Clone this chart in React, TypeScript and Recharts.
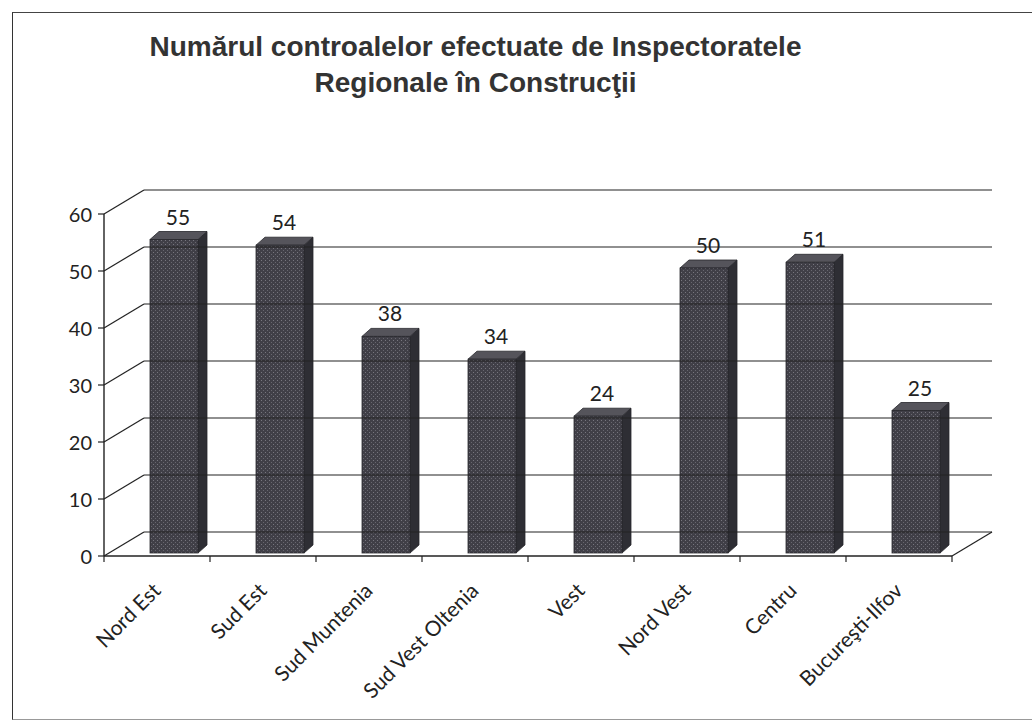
import { BarChart, Bar, XAxis, YAxis, LabelList } from "recharts"

const regions = [
  "Nord Est",
  "Sud Est",
  "Sud Muntenia",
  "Sud Vest Oltenia",
  "Vest",
  "Nord Vest",
  "Centru",
  "Bucureşti-Ilfov",
]
const controale = [55, 54, 38, 34, 24, 50, 51, 25]
const valueTicks = [0, 10, 20, 30, 40, 50, 60]
const titleLines = [
  "Numărul controalelor efectuate de Inspectoratele",
  "Regionale în Construcţii",
]

const data = regions.map((region, i) => ({ region, controale: controale[i] }))

// layout of the pseudo-3D box (front plane -> back wall)
const W = 1032
const H = 722
const PLOT_LEFT = 104
const PLOT_RIGHT = 952
const PLOT_TOP = 214
const PLOT_BOTTOM = 556
const DEPTH_X = 40
const DEPTH_Y = -24
const BAND = (PLOT_RIGHT - PLOT_LEFT) / regions.length
const BAR_SHIFT_X = 17
const BAR_SHIFT_Y = -3
const BAR_DX = 9
const BAR_DY = -8

const INK = "#222"
const FONT = "Lato, 'Open Sans', sans-serif"

function YTick({ y, payload }: any) {
  const v = payload.value
  const bx = PLOT_LEFT + DEPTH_X
  const by = y + DEPTH_Y
  return (
    <g>
      <line x1={PLOT_LEFT - 6} x2={PLOT_LEFT} y1={y} y2={y} stroke={INK} strokeWidth={1.2} />
      <line x1={PLOT_LEFT} y1={y} x2={bx} y2={by} stroke={INK} strokeWidth={1.2} />
      <line x1={bx} y1={by} x2={PLOT_RIGHT + DEPTH_X} y2={by} stroke={INK} strokeWidth={1.2} />
      {v === 0 && (
        <line x1={PLOT_RIGHT} y1={y} x2={PLOT_RIGHT + DEPTH_X} y2={by} stroke={INK} strokeWidth={1.2} />
      )}
      <text
        x={PLOT_LEFT - 12}
        y={y}
        textAnchor="end"
        dominantBaseline="central"
        fontFamily={FONT}
        fontSize={20}
        fill={INK}
      >
        {v}
      </text>
    </g>
  )
}

function XTick({ x, payload, index }: any) {
  const left = x - BAND / 2
  const tx = x + 5
  const ty = 592
  return (
    <g>
      <line x1={left} x2={left} y1={PLOT_BOTTOM} y2={PLOT_BOTTOM + 6} stroke={INK} strokeWidth={1.2} />
      {index === regions.length - 1 && (
        <line x1={x + BAND / 2} x2={x + BAND / 2} y1={PLOT_BOTTOM} y2={PLOT_BOTTOM + 6} stroke={INK} strokeWidth={1.2} />
      )}
      <text
        x={tx}
        y={ty}
        textAnchor="end"
        transform={`rotate(-45, ${tx}, ${ty})`}
        fontFamily={FONT}
        fontSize={21}
        fill={INK}
      >
        {payload.value}
      </text>
    </g>
  )
}

function Bar3D({ x, y, width, height, index }: any) {
  const fx = x + BAR_SHIFT_X
  const fy = y + BAR_SHIFT_Y
  const bottom = fy + height
  const r = fx + width
  return (
    <g>
      {index === 0 && (
        <defs>
          <pattern id="speckle" width="4" height="4" patternUnits="userSpaceOnUse">
            <rect width="4" height="4" fill="#403f47" />
            <rect x="1" y="0" width="1" height="1" fill="#77767e" />
            <rect x="3" y="2" width="1" height="1" fill="#67666e" />
          </pattern>
        </defs>
      )}
      <polygon
        points={`${r},${fy} ${r + BAR_DX},${fy + BAR_DY} ${r + BAR_DX},${bottom + BAR_DY} ${r},${bottom}`}
        fill="#2e2e34"
        stroke="#26262b"
        strokeWidth={0.8}
      />
      <polygon
        points={`${fx},${fy} ${fx + BAR_DX},${fy + BAR_DY} ${r + BAR_DX},${fy + BAR_DY} ${r},${fy}`}
        fill="#55545b"
        stroke="#26262b"
        strokeWidth={0.8}
      />
      <rect x={fx} y={fy} width={width} height={height} fill="url(#speckle)" stroke="#2a2a2f" strokeWidth={0.8} />
    </g>
  )
}

function ValueLabel({ x, y, width, value }: any) {
  return (
    <text
      x={x + BAR_SHIFT_X + width / 2 + 4}
      y={y + BAR_SHIFT_Y - 15}
      textAnchor="middle"
      fontFamily={FONT}
      fontSize={21}
      fill={INK}
    >
      {value}
    </text>
  )
}

export default function App() {
  return (
    <div
      style={{
        position: "fixed",
        left: 0,
        top: 0,
        width: W,
        height: H,
        overflow: "hidden",
        background: "#fff",
      }}
    >
      <div
        style={{
          position: "absolute",
          left: 12,
          top: 12,
          width: 1040,
          height: 706,
          borderLeft: "1.5px solid #333",
          borderTop: "1.5px solid #444",
          borderBottom: "1px solid #999",
        }}
      />
      <div
        style={{
          position: "absolute",
          left: 0,
          top: 29,
          width: 951,
          textAlign: "center",
          fontFamily: "'Liberation Sans', Arial, sans-serif",
          fontWeight: "bold",
          fontSize: 28,
          lineHeight: "36px",
          color: "#333",
        }}
      >
        {titleLines.map((t) => (
          <div key={t}>{t}</div>
        ))}
      </div>
      <div style={{ position: "absolute", left: 0, top: 0 }}>
        <BarChart
          width={W}
          height={H}
          data={data}
          margin={{ top: PLOT_TOP, right: W - PLOT_RIGHT, bottom: 66, left: PLOT_LEFT - 60 }}
        >
          <YAxis
            width={60}
            domain={[0, 60]}
            ticks={valueTicks}
            interval={0}
            axisLine={{ stroke: INK, strokeWidth: 1.4 }}
            tickLine={false}
            tick={<YTick />}
          />
          <XAxis
            dataKey="region"
            height={H - PLOT_BOTTOM - 66}
            interval={0}
            axisLine={{ stroke: INK, strokeWidth: 1.4 }}
            tickLine={false}
            tick={<XTick />}
          />
          <Bar dataKey="controale" barSize={48} shape={<Bar3D />} isAnimationActive={false}>
            <LabelList dataKey="controale" content={<ValueLabel />} />
          </Bar>
        </BarChart>
      </div>
    </div>
  )
}
